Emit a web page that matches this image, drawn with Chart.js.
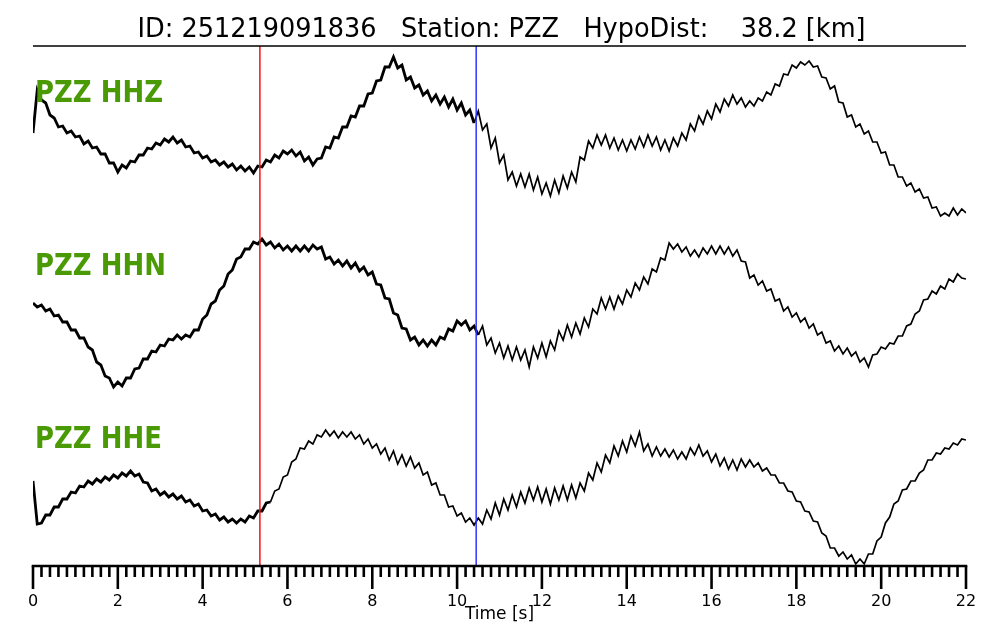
<!DOCTYPE html>
<html lang="en">
	<head>
		<meta charset="UTF-8" />
		<title>PZZ waveforms</title>
		<style>
			html, body { margin: 0; padding: 0; background: #fff; }
			#wrap { width: 1000px; height: 640px; }
		</style>
	</head>
	<body>
		<div id="wrap"><canvas id="myChart"></canvas></div>

		<script src="https://cdn.jsdelivr.net/npm/chart.js@4/dist/chart.umd.min.js"></script>
		<script>
			// sample interval [s], traces every 0.1 s (upward = positive)
			var dt = 0.1;
			var channels = ["PZZ HHZ", "PZZ HHN", "PZZ HHE"];

			var hhz = [
				5, 48, 38, 35, 23, 20, 11, 12, 5, 7,
				1, 2, -6, -3, -10, -9, -16, -16, -25, -25,
				-34, -27, -30, -23, -24, -17, -17, -10, -11, -5,
				-7, -1, -4, 1, -5, -2, -9, -8, -15, -14,
				-20, -18, -24, -22, -27, -24, -29, -26, -32, -28,
				-33, -29, -35, -28, -29, -22, -24, -17, -20, -13,
				-16, -12, -18, -14, -23, -19, -27, -21, -20, -9,
				-10, 1, 0, 11, 11, 22, 21, 32, 32, 44,
				45, 57, 58, 71, 71, 81, 70, 73, 58, 61,
				50, 53, 43, 47, 37, 43, 34, 41, 31, 39,
				28, 35, 23, 28, 15, 27, 8, 14, -10, 0,
				-25, -17, -42, -34, -48, -36, -49, -36, -52, -39,
				-56, -45, -58, -42, -55, -38, -50, -34, -44, -19,
				-22, -3, -10, 3, -7, 3, -10, 0, -12, -2,
				-13, -2, -11, 1, -9, 3, -8, 1, -12, -2,
				-13, 0, -8, 5, -2, 14, 7, 22, 14, 27,
				19, 34, 26, 39, 32, 43, 34, 40, 31, 37,
				32, 40, 37, 46, 43, 54, 52, 64, 63, 73,
				70, 76, 73, 77, 71, 72, 61, 60, 49, 52,
				36, 35, 21, 23, 11, 14, 4, 7, -4, -4,
				-15, -14, -27, -27, -39, -39, -48, -45, -54, -51,
				-60, -59, -70, -69, -78, -75, -78, -70, -77, -71,
				-75
			];

			var hhn = [
				10, 6, 8, 2, 4, -3, -2, -9, -9, -17,
				-17, -25, -25, -34, -37, -49, -52, -63, -65, -74,
				-69, -73, -65, -65, -56, -55, -46, -46, -38, -39,
				-32, -33, -26, -27, -22, -26, -22, -24, -17, -17,
				-6, -2, 9, 12, 23, 27, 39, 43, 54, 56,
				64, 64, 71, 69, 74, 68, 71, 65, 69, 63,
				67, 62, 67, 62, 67, 62, 68, 64, 66, 54,
				56, 49, 53, 47, 52, 45, 50, 42, 46, 38,
				41, 29, 28, 15, 14, 0, -2, -15, -16, -27,
				-24, -32, -27, -33, -27, -32, -24, -26, -16, -18,
				-8, -12, -8, -17, -13, -22, -13, -32, -25, -40,
				-30, -45, -33, -47, -34, -47, -37, -54, -34, -45,
				-30, -44, -28, -37, -18, -27, -12, -24, -10, -21,
				-5, -14, 4, -1, 15, 4, 16, 4, 17, 9,
				23, 16, 30, 23, 36, 29, 44, 41, 55, 53,
				70, 64, 69, 61, 66, 57, 63, 56, 65, 59,
				67, 59, 67, 59, 66, 57, 63, 52, 51, 35,
				38, 28, 32, 22, 24, 12, 14, 2, 6, -4,
				0, -9, -5, -15, -11, -22, -19, -30, -28, -38,
				-33, -41, -35, -43, -39, -49, -45, -54, -42, -41,
				-34, -36, -30, -31, -23, -23, -13, -11, -1, 2,
				13, 14, 22, 19, 27, 24, 34, 31, 39, 35,
				34
			];

			var hhe = [
				16, -27, -26, -18, -18, -10, -10, -2, -2, 5,
				4, 11, 10, 16, 13, 18, 15, 20, 17, 22,
				19, 24, 21, 26, 21, 23, 15, 14, 6, 8,
				2, 5, 0, 3, -2, 1, -5, -3, -9, -7,
				-14, -13, -19, -17, -23, -20, -25, -22, -26, -22,
				-25, -19, -21, -14, -14, -6, -5, 6, 8, 20,
				22, 35, 38, 49, 48, 56, 53, 62, 60, 67,
				61, 66, 59, 65, 60, 65, 58, 62, 53, 58,
				49, 53, 43, 49, 37, 46, 33, 42, 31, 40,
				29, 34, 22, 25, 12, 14, 2, 2, -10, -9,
				-19, -16, -25, -21, -28, -21, -27, -13, -22, -6,
				-18, -2, -13, 2, -10, 5, -6, 9, -3, 10,
				-5, 8, -7, 9, -3, 11, -3, 12, -1, 14,
				6, 24, 17, 34, 25, 42, 34, 51, 41, 56,
				45, 61, 51, 65, 46, 53, 41, 50, 41, 48,
				40, 47, 38, 45, 38, 49, 42, 52, 41, 46,
				35, 43, 31, 39, 28, 37, 27, 38, 30, 37,
				30, 34, 26, 29, 22, 22, 14, 14, 6, 5,
				-4, -5, -14, -15, -24, -25, -36, -39, -51, -51,
				-59, -55, -62, -58, -67, -62, -67, -57, -57, -44,
				-40, -26, -20, -7, -4, 7, 8, 16, 16, 24,
				27, 37, 37, 44, 43, 49, 48, 54, 52, 58,
				57
			];

			// P and S picks [s]
			var picks = [5.35, 10.45];
			var pickColors = ["#ff1010", "#3030ff"];
			var title = "ID: 251219091836   Station: PZZ   HypoDist:    38.2 [km]";

			// trace baselines and label heights on the stacked y axis
			var offsets = [428, 253, 69];
			var labelY = [464, 291, 118];
			// where the dense high-frequency hash ends on each trace [s]
			var hashEnd = [10.4, 10.5, 5.6];

			function isMajor(v) {
				return Math.abs(v / 2 - Math.round(v / 2)) < 1e-6;
			}

			function toPoints(arr, off) {
				return arr.map(function (v, i) {
					return { x: i * dt, y: off + v };
				});
			}

			var traces = [hhz, hhn, hhe];
			var datasets = traces.map(function (arr, i) {
				return {
					label: channels[i],
					data: toPoints(arr, offsets[i]),
					borderColor: "#000",
					borderWidth: 1.7,
					pointRadius: 0,
					tension: 0,
					segment: {
						borderWidth: function (ctx) {
							return ctx.p1.parsed.x <= hashEnd[i] + 1e-6 ? 2.8 : 1.7;
						},
					},
				};
			});

			var overlay = {
				id: "overlay",
				afterDatasetsDraw: function (chart) {
					var ctx = chart.ctx;
					var x = chart.scales.x;
					var a = chart.chartArea;
					picks.forEach(function (t, i) {
						var px = x.getPixelForValue(t);
						ctx.save();
						ctx.strokeStyle = pickColors[i];
						ctx.lineWidth = 1.5;
						ctx.beginPath();
						ctx.moveTo(px, a.top);
						ctx.lineTo(px, a.bottom);
						ctx.stroke();
						ctx.restore();
					});
				},
				afterDraw: function (chart) {
					var ctx = chart.ctx;
					var x = chart.scales.x;
					var y = chart.scales.y;
					var a = chart.chartArea;
					ctx.save();

					// title + rule
					ctx.fillStyle = "#000";
					ctx.font = '26px "DejaVu Sans"';
					var w = ctx.measureText(title).width;
					ctx.save();
					ctx.translate((a.left + a.right) / 2 + 2, 37);
					ctx.scale(728 / w, 1);
					ctx.textAlign = "center";
					ctx.textBaseline = "alphabetic";
					ctx.fillText(title, 0, 0);
					ctx.restore();

					ctx.strokeStyle = "#000";
					ctx.lineWidth = 1.6;
					ctx.beginPath();
					ctx.moveTo(a.left, a.top);
					ctx.lineTo(a.right, a.top);
					ctx.stroke();

					// channel names
					ctx.font = 'bold 30px "DejaVu Sans"';
					ctx.fillStyle = "#4a9a06";
					var sx = 128 / ctx.measureText(channels[0]).width;
					channels.forEach(function (name, i) {
						ctx.save();
						ctx.translate(x.getPixelForValue(0) + 2, y.getPixelForValue(labelY[i]));
						ctx.scale(sx, 1);
						ctx.textAlign = "left";
						ctx.textBaseline = "alphabetic";
						ctx.fillText(name, 0, 0);
						ctx.restore();
					});

					// time axis with long and short ticks
					ctx.strokeStyle = "#000";
					ctx.lineWidth = 2.6;
					ctx.beginPath();
					ctx.moveTo(a.left - 1.3, a.bottom);
					ctx.lineTo(a.right + 1.3, a.bottom);
					ctx.stroke();
					x.ticks.forEach(function (tick) {
						var px = x.getPixelForValue(tick.value);
						var len = isMajor(tick.value) ? 23 : 11;
						ctx.beginPath();
						ctx.moveTo(px, a.bottom);
						ctx.lineTo(px, a.bottom + len);
						ctx.stroke();
					});
					ctx.restore();
				},
			};

			var chart = new Chart(document.getElementById("myChart").getContext("2d"), {
				type: "line",
				data: { datasets: datasets },
				options: {
					responsive: true,
					maintainAspectRatio: false,
					animation: false,
					layout: { padding: { top: 46, left: 33, right: 34, bottom: 0 } },
					plugins: {
						legend: { display: false },
						tooltip: { enabled: false },
					},
					scales: {
						x: {
							type: "linear",
							min: 0,
							max: 22,
							afterFit: function (scale) {
								scale.height = 74;
							},
							border: { display: false },
							grid: {
								display: true,
								drawOnChartArea: false,
								drawTicks: true,
								tickLength: 23,
								tickColor: "rgba(0,0,0,0)",
							},
							ticks: {
								stepSize: 0.2,
								autoSkip: false,
								maxTicksLimit: 200,
								maxRotation: 0,
								minRotation: 0,
								padding: 3,
								color: "#000",
								font: { family: "DejaVu Sans", size: 16 },
								callback: function (v) {
									return isMajor(v) ? String(Math.round(v)) : "";
								},
							},
							title: {
								display: true,
								text: "Time [s]",
								color: "#000",
								font: { family: "DejaVu Sans", size: 17 },
								padding: { top: 0, bottom: 15 },
							},
						},
						y: {
							display: false,
							min: 0,
							max: 520,
						},
					},
				},
				plugins: [overlay],
			});
		</script>
	</body>
</html>
